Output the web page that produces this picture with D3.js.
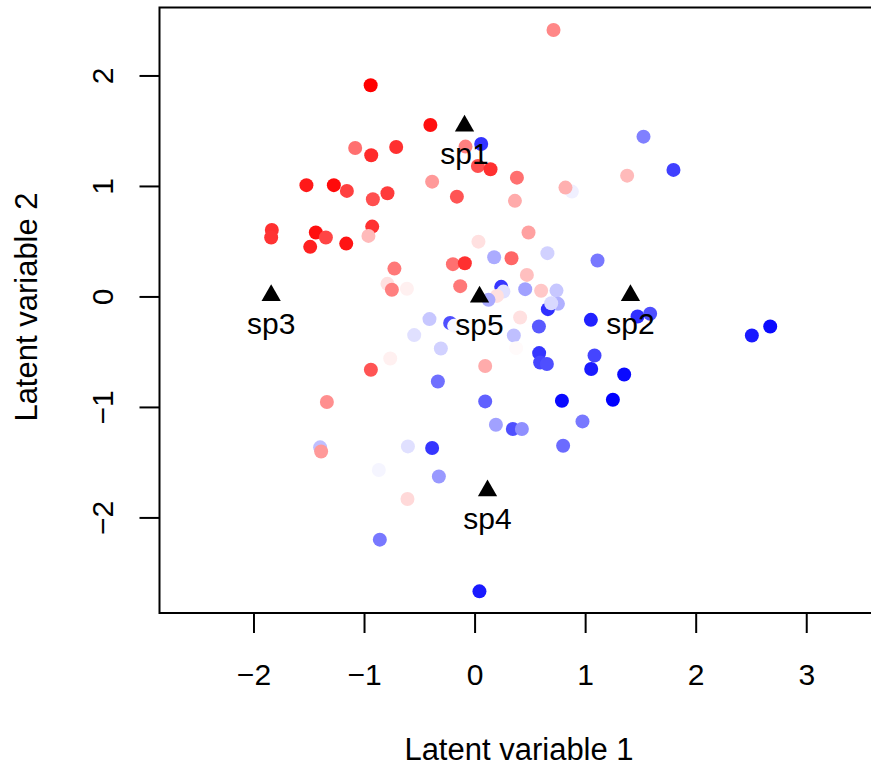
<!DOCTYPE html>
<html><head><meta charset="utf-8">
<script src="https://cdn.jsdelivr.net/npm/d3@7"></script>
<style>body{margin:0;background:#fff} text{font-family:"Liberation Sans",Arial,Helvetica,sans-serif;fill:#000}</style>
</head><body><svg id="c" width="871" height="766"></svg>
<script>
// ---- data ----
const lv1 = [-0.94,-0.40,-1.08,-0.935,-0.709,-0.082,0.030,0.144,-1.521,-1.273,-1.155,-0.920,-0.788,-0.384,-0.160,0.714,1.528,1.799,0.060,0.383,1.380,0.880,0.822,0.365,-1.834,-1.840,-1.436,-1.345,-1.487,-1.161,-0.926,-0.960,0.035,0.177,0.334,-0.725,-0.196,-0.088,-0.788,-0.748,-0.612,-0.130,0.241,0.261,0.202,0.126,-0.408,-0.221,-0.185,-0.546,-0.305,-0.763,0.096,-0.938,-0.332,0.096,-1.336,0.488,0.659,1.112,0.473,0.458,0.602,0.741,0.754,0.663,0.693,1.052,1.474,1.588,0.412,0.582,0.355,0.376,0.584,0.593,0.654,1.085,1.055,1.353,2.508,2.674,0.790,1.251,0.976,0.193,0.346,0.428,0.801,-1.397,-1.388,-0.603,-0.384,-0.866,-0.323,-0.607,-0.857,0.044];
const lv2 = [1.911,1.552,1.344,1.278,1.353,1.356,1.181,1.151,1.007,1.007,0.955,0.880,0.934,1.039,0.903,2.411,1.446,1.145,1.380,1.075,1.093,0.949,0.985,0.865,0.602,0.533,0.578,0.533,0.449,0.478,0.632,0.548,0.496,0.355,0.346,0.252,0.292,0.301,0.114,0.060,0.069,0.093,0.087,0.044,0.005,-0.031,-0.205,-0.241,-0.266,-0.350,-0.471,-0.562,-0.630,-0.664,-0.770,-0.950,-0.956,0.578,0.392,0.325,0.195,0.066,0.051,0.053,-0.067,-0.115,-0.061,-0.212,-0.182,-0.157,-0.191,-0.272,-0.354,-0.468,-0.513,-0.598,-0.612,-0.534,-0.657,-0.706,-0.354,-0.272,-0.944,-0.935,-1.131,-1.161,-1.200,-1.200,-1.351,-1.366,-1.403,-1.357,-1.372,-1.571,-1.629,-1.833,-2.201,-2.669];
// -1 = red, 0 = white, 1 = blue
const colorScore = [-1.0,-0.94,-0.56,-0.83,-0.81,-0.5,-0.69,-0.81,-0.9,-0.96,-0.75,-0.69,-0.77,-0.4,-0.67,-0.47,0.5,0.75,0.8,-0.56,-0.27,0.06,-0.31,-0.33,-0.81,-0.8,-0.94,-0.73,-0.87,-0.92,-0.81,-0.27,-0.12,0.33,-0.6,-0.53,-0.56,-0.81,-0.12,-0.5,-0.06,-0.53,0.79,0.12,-0.12,0.33,0.22,0.69,0.03,0.12,0.18,-0.06,-0.33,-0.67,0.56,0.62,-0.44,-0.37,0.18,0.53,-0.25,0.37,-0.22,0.22,0.31,0.81,0.15,0.87,0.81,0.69,-0.12,0.65,0.25,-0.02,0.79,0.73,0.69,0.73,0.9,0.96,0.9,0.96,0.96,1.0,0.53,0.37,0.69,0.44,0.58,0.25,-0.4,0.12,0.79,0.04,0.4,-0.15,0.53,0.9];
const spNames = ["sp1","sp2","sp3","sp4","sp5"];
const spLv1 = [-0.091,1.41,-1.84,0.117,0.045];
const spLv2 = [1.543,0.01,0.01,-1.758,-0.005];
const xTicks = [-2,-1,0,1,2,3];
const yTicks = [-2,-1,0,1,2];
const xTitle = "Latent variable 1";
const yTitle = "Latent variable 2";

// ---- layout ----
const L = 159.5, T = 7.5, B = 613, R = 877;
const svg = d3.select("#c");
const x = d3.scaleLinear().domain([-2.85, 3.64]).range([L, R]);
const y = d3.scaleLinear().domain([-2.865, 2.615]).range([B, T]);
const col = d3.scaleLinear().domain([-1, 0, 1]).range(["#ff0000", "#ffffff", "#0000ff"]);
const fmt = d => d < 0 ? "\u2212" + Math.abs(d) : String(d);

svg.append("rect").attr("width", 871).attr("height", 766).attr("fill", "#fff");

// points
svg.append("g").selectAll("circle").data(lv1.map((v, i) => i)).join("circle")
  .attr("cx", i => x(lv1[i])).attr("cy", i => y(lv2[i])).attr("r", 7)
  .attr("fill", i => col(colorScore[i]));

// species triangles (R pch 17 geometry)
const rr = 7.15;
const tri = `M0,${-1.555*rr}L${1.347*rr},${0.778*rr}L${-1.347*rr},${0.778*rr}Z`;
const sp = svg.append("g").selectAll("g").data(spNames.map((n, i) => i)).join("g")
  .attr("transform", i => `translate(${x(spLv1[i])},${y(spLv2[i])})`);
sp.append("path").attr("d", tri).attr("fill", "#000");
sp.append("text").attr("y", 38.5).attr("text-anchor", "middle").attr("font-size", 30)
  .text(i => spNames[i]);

// frame
svg.append("rect").attr("x", L).attr("y", T).attr("width", R - L).attr("height", B - T)
  .attr("fill", "none").attr("stroke", "#000").attr("stroke-width", 2);

// x axis
const gx = svg.append("g").attr("transform", `translate(0,${B})`)
  .call(d3.axisBottom(x).tickValues(xTicks).tickSize(20).tickFormat(fmt));
gx.select(".domain").remove();
gx.selectAll("line").attr("stroke", "#000").attr("stroke-width", 2);
gx.selectAll("text").attr("y", 72).attr("dy", null).attr("font-size", 30)
  .attr("font-family", "Liberation Sans, Arial, sans-serif").attr("fill", "#000");

// y axis
const gy = svg.append("g").attr("transform", `translate(${L},0)`)
  .call(d3.axisLeft(y).tickValues(yTicks).tickSize(20).tickFormat(fmt));
gy.select(".domain").remove();
gy.selectAll("line").attr("stroke", "#000").attr("stroke-width", 2);
gy.selectAll("text").attr("x", 0).attr("y", -46.5).attr("dy", null)
  .attr("transform", "rotate(-90)").attr("text-anchor", "middle").attr("font-size", 30)
  .attr("font-family", "Liberation Sans, Arial, sans-serif").attr("fill", "#000");

// titles
svg.append("text").attr("x", 519).attr("y", 760).attr("text-anchor", "middle")
  .attr("font-size", 31).text(xTitle);
svg.append("text").attr("transform", "translate(37.3,307) rotate(-90)")
  .attr("text-anchor", "middle").attr("font-size", 31).text(yTitle);
</script></body></html>
